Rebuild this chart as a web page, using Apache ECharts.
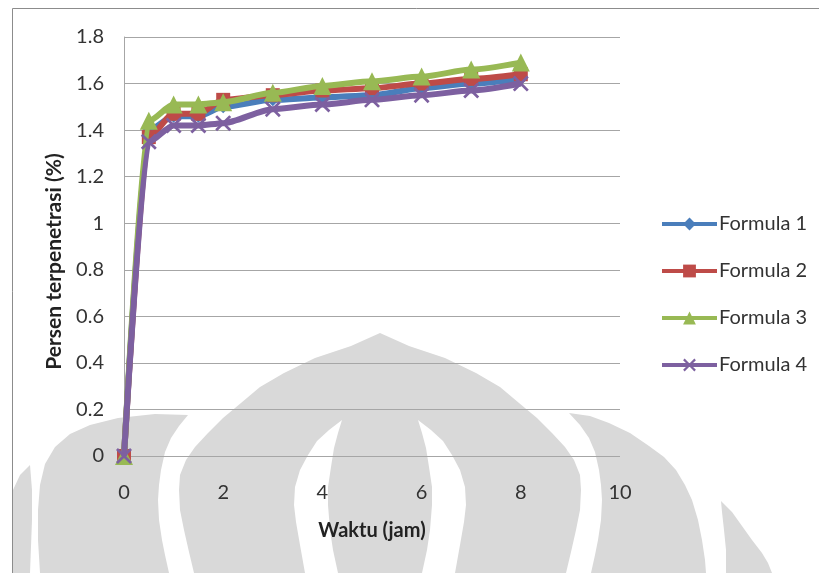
<!DOCTYPE html>
<html>
<head>
<meta charset="utf-8">
<script src="https://cdn.jsdelivr.net/npm/echarts@6/dist/echarts.min.js"></script>
<style>
  html, body { margin: 0; padding: 0; background: #ffffff; }
  #chart { width: 819px; height: 573px; }
</style>
</head>
<body>
<div id="chart"></div>
<script>
// Sampling times (hours)
const waktu = [0, 0.5, 1, 1.5, 2, 3, 4, 5, 6, 7, 8];

// Cumulative penetration (%) per formula
const formula1 = [0, 1.40, 1.46, 1.46, 1.50, 1.53, 1.54, 1.55, 1.58, 1.60, 1.62];
const formula2 = [0, 1.37, 1.47, 1.47, 1.53, 1.55, 1.57, 1.58, 1.60, 1.62, 1.64];
const formula3 = [0, 1.44, 1.51, 1.51, 1.52, 1.56, 1.59, 1.61, 1.63, 1.66, 1.69];
const formula4 = [0, 1.35, 1.42, 1.42, 1.43, 1.49, 1.51, 1.53, 1.55, 1.57, 1.60];

const seriesNames = ['Formula 1', 'Formula 2', 'Formula 3', 'Formula 4'];
const seriesValues = [formula1, formula2, formula3, formula4];
const seriesColors = ['#4a7ebb', '#be4b48', '#98b954', '#7d60a0'];
const crossPath = 'path://M0,1.2L1.2,0L5,3.8L8.8,0L10,1.2L6.2,5L10,8.8L8.8,10L5,6.2L1.2,10L0,8.8L3.8,5Z';
const seriesSymbols = ['diamond', 'rect', 'triangle', crossPath];
const seriesSymbolSizes = [13, 14, 18, 16];

const font = 'Lato, "Open Sans", sans-serif';

// Background emblem pieces (page decoration)
const emblemGray = '#d9d9d9';
const dome = [[380,333],[409,346],[445,358],[476,373],[500,387],[519,403],[537,418],[552,433],[565,447],[574,460],[580,475],[581,490],[580,510],[576,530],[571,552],[566,573],
  [194,573],[189,552],[184,530],[180,510],[179,490],[180,475],[186,460],[195,447],[208,433],[223,418],[241,403],[260,387],[284,373],[315,358],[351,346]];
const crescentR = [[418,420],[431,430],[443,441],[452,455],[460,470],[465,487],[466,505],[464,522],[460,545],[455,573],[422,573],[427,550],[430,530],[432,505],[432,487],[429,467],[426,448],[422,433]];
const crescentL = crescentR.map(p => [760 - p[0], p[1]]);
const lobeR = [[569,413],[590,416],[609,423],[630,433],[649,446],[664,457],[676,470],[685,485],[692,500],[698,520],[702,540],[705,560],[706,573],
  [591,573],[595,555],[598,540],[601,520],[602,500],[601,485],[599,470],[595,452],[589,438],[580,425]];
const lobeL = [[188,415],[179,426],[171,438],[165,452],[161,470],[159,485],[158,500],[159,520],[162,540],[165,555],[169,573],
  [40,573],[38,540],[38,510],[40,485],[45,464],[55,447],[70,434],[90,425],[118,418],[155,414]];
const tipR = [[721,501],[732,512],[742,526],[752,540],[762,553],[768,563],[772,573],[726,573],[726,550],[724,530],[722,512]];
const tipL = [[30,465],[32,490],[32,520],[30,573],[13,573],[13,490],[20,475]];

function poly(points, fill) {
  return { type: 'polygon', z: -10, silent: true, shape: { points: points }, style: { fill: fill } };
}

const chart = echarts.init(document.getElementById('chart'), null, { renderer: 'canvas' });

chart.setOption({
  backgroundColor: '#ffffff',
  animation: false,
  graphic: [
    poly(dome, emblemGray),
    poly(crescentR, '#ffffff'),
    poly(crescentL, '#ffffff'),
    poly(lobeR, emblemGray),
    poly(lobeL, emblemGray),
    poly(tipR, emblemGray),
    poly(tipL, emblemGray),
    {
      type: 'rect', z: -5, silent: true,
      shape: { x: 12.5, y: 8.5, width: 900, height: 700 },
      style: { fill: 'none', stroke: '#8c8c8c', lineWidth: 1 }
    }
  ],
  grid: { left: 124, right: 199, top: 37, bottom: 117, containLabel: false },
  legend: {
    orient: 'vertical',
    left: 655,
    top: 209,
    itemWidth: 55,
    itemHeight: 16,
    itemGap: 27,
    data: seriesNames.map(n => ({ name: n, lineStyle: { width: 4 } })),
    textStyle: { fontFamily: font, fontSize: 20, color: '#333333', padding: [0, 0, 0, -3] }
  },
  xAxis: {
    type: 'value',
    min: 0, max: 10, interval: 2,
    name: 'Waktu (jam)',
    nameLocation: 'middle',
    nameGap: 65,
    nameTextStyle: { fontFamily: font, fontSize: 20, fontWeight: 'bold', color: '#222222' },
    axisLine: { show: false },
    axisTick: { show: false },
    axisLabel: { fontFamily: font, fontSize: 20, color: '#333333', margin: 27 },
    splitLine: { show: false }
  },
  yAxis: {
    type: 'value',
    min: 0, max: 1.8, interval: 0.2,
    name: 'Persen terpenetrasi (%)',
    nameLocation: 'middle',
    nameGap: 58,
    nameTextStyle: { fontFamily: font, fontSize: 21, fontWeight: 'bold', color: '#222222', padding: [0, 30, 0, 0] },
    axisLine: { show: true, lineStyle: { color: '#a6a6a6', width: 1 } },
    axisTick: { show: false },
    axisLabel: {
      fontFamily: font, fontSize: 20, color: '#333333', margin: 20,
      formatter: v => String(parseFloat(v.toFixed(1)))
    },
    splitLine: { show: true, lineStyle: { color: '#a6a6a6', width: 1 } }
  },
  series: seriesNames.map((name, i) => ({
    name: name,
    type: 'line',
    data: waktu.map((t, k) => [t, seriesValues[i][k]]),
    smooth: 0.25,
    smoothMonotone: 'x',
    symbol: seriesSymbols[i],
    symbolSize: seriesSymbolSizes[i],
    showAllSymbol: true,
    lineStyle: { color: seriesColors[i], width: 6 },
    itemStyle: { color: seriesColors[i] },
    z: 2 + i
  }))
});
</script>
</body>
</html>
